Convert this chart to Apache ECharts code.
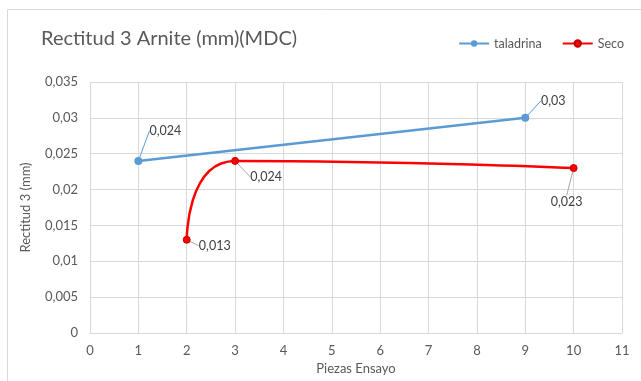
<!DOCTYPE html>
<html>
<head>
<meta charset="utf-8">
<style>
  html, body { margin: 0; padding: 0; background: #fff; }
  #chart { width: 641px; height: 381px; }
</style>
<script src="https://cdn.jsdelivr.net/npm/echarts@6/dist/echarts.min.js"></script>
</head>
<body>
<div id="chart"></div>
<script>
// Rectitud 3 measurements per test piece
const taladrinaX = [1, 9];
const taladrinaY = [0.024, 0.03];
const secoX = [2, 3, 10];
const secoY = [0.013, 0.024, 0.023];
const xTicks = [0, 1, 2, 3, 4, 5, 6, 7, 8, 9, 10, 11];
const yTicks = [0, 0.005, 0.01, 0.015, 0.02, 0.025, 0.03, 0.035];

const FONT = 'Lato, "Open Sans", sans-serif';
const TXT = '#595959';
const GRID = '#d9d9d9';

function fmt(v) {
  return String(+Number(v).toFixed(4)).replace('.', ',');
}

function pairs(xs, ys) {
  return xs.map((x, i) => [x, ys[i]]);
}

// label offsets (dx, dy) from each point, per series
const taladrinaOffsets = [[27, -30], [28, -17]];
const secoOffsets = [[28, 6], [31, 16], [-7, 34]];

const chart = echarts.init(document.getElementById('chart'), null, { renderer: 'canvas' });

function labelCfg() {
  return {
    show: true,
    formatter: p => fmt(p.value[1]),
    fontFamily: FONT,
    fontSize: 12.5,
    color: '#404040',
    position: 'inside'
  };
}

chart.setOption({
  animation: false,
  textStyle: { fontFamily: FONT },
  graphic: [{
    type: 'rect',
    shape: { x: 7.5, y: 9.5, width: 700, height: 400 },
    style: { fill: 'none', stroke: '#d9d9d9', lineWidth: 1 },
    silent: true
  }],
  title: {
    text: 'Rectitud 3 Arnite (mm)(MDC)',
    left: 36,
    top: 24,
    textStyle: { fontFamily: FONT, fontSize: 20, fontWeight: 'normal', color: TXT }
  },
  legend: {
    right: 12,
    top: 32,
    itemWidth: 30,
    itemHeight: 8,
    itemGap: 20,
    textStyle: { fontFamily: FONT, fontSize: 12.5, color: TXT },
    data: ['taladrina', 'Seco']
  },
  grid: { left: 90, right: 19, top: 82, bottom: 48 },
  xAxis: {
    type: 'value',
    min: xTicks[0],
    max: xTicks[xTicks.length - 1],
    interval: 1,
    name: 'Piezas Ensayo',
    nameLocation: 'middle',
    nameGap: 29,
    nameTextStyle: { fontFamily: FONT, fontSize: 13, color: TXT },
    axisLine: { show: true, lineStyle: { color: GRID } },
    axisTick: { show: false },
    axisLabel: { color: TXT, fontFamily: FONT, fontSize: 13, margin: 11, formatter: v => fmt(v) },
    splitLine: { show: true, lineStyle: { color: GRID } }
  },
  yAxis: {
    type: 'value',
    min: yTicks[0],
    max: yTicks[yTicks.length - 1],
    interval: 0.005,
    name: 'Rectitud 3 (mm)',
    nameLocation: 'middle',
    nameGap: 58,
    nameTextStyle: { fontFamily: FONT, fontSize: 13, color: TXT },
    axisLine: { show: false },
    axisTick: { show: false },
    axisLabel: { color: TXT, fontFamily: FONT, fontSize: 13, margin: 12, formatter: v => fmt(v) },
    splitLine: { show: true, lineStyle: { color: GRID } }
  },
  series: [
    {
      name: 'taladrina',
      type: 'line',
      data: pairs(taladrinaX, taladrinaY),
      color: '#5B9BD5',
      lineStyle: { width: 2.5, color: '#5B9BD5' },
      symbol: 'circle',
      symbolSize: 8,
      itemStyle: { color: '#5B9BD5' },
      label: labelCfg(),
      labelLine: { show: true, lineStyle: { color: '#5B9BD5', width: 1 } },
      labelLayout: p => ({ dx: taladrinaOffsets[p.dataIndex][0], dy: taladrinaOffsets[p.dataIndex][1] })
    },
    {
      name: 'Seco',
      type: 'line',
      data: pairs(secoX, secoY),
      smooth: 0.8,
      color: '#FF0000',
      lineStyle: { width: 2.5, color: '#FF0000' },
      symbol: 'circle',
      symbolSize: 7,
      itemStyle: { color: '#FF0000', borderColor: '#C00000', borderWidth: 1 },
      label: labelCfg(),
      labelLine: { show: true, lineStyle: { color: '#A6A6A6', width: 1 } },
      labelLayout: p => ({ dx: secoOffsets[p.dataIndex][0], dy: secoOffsets[p.dataIndex][1] })
    }
  ]
});
</script>
</body>
</html>
